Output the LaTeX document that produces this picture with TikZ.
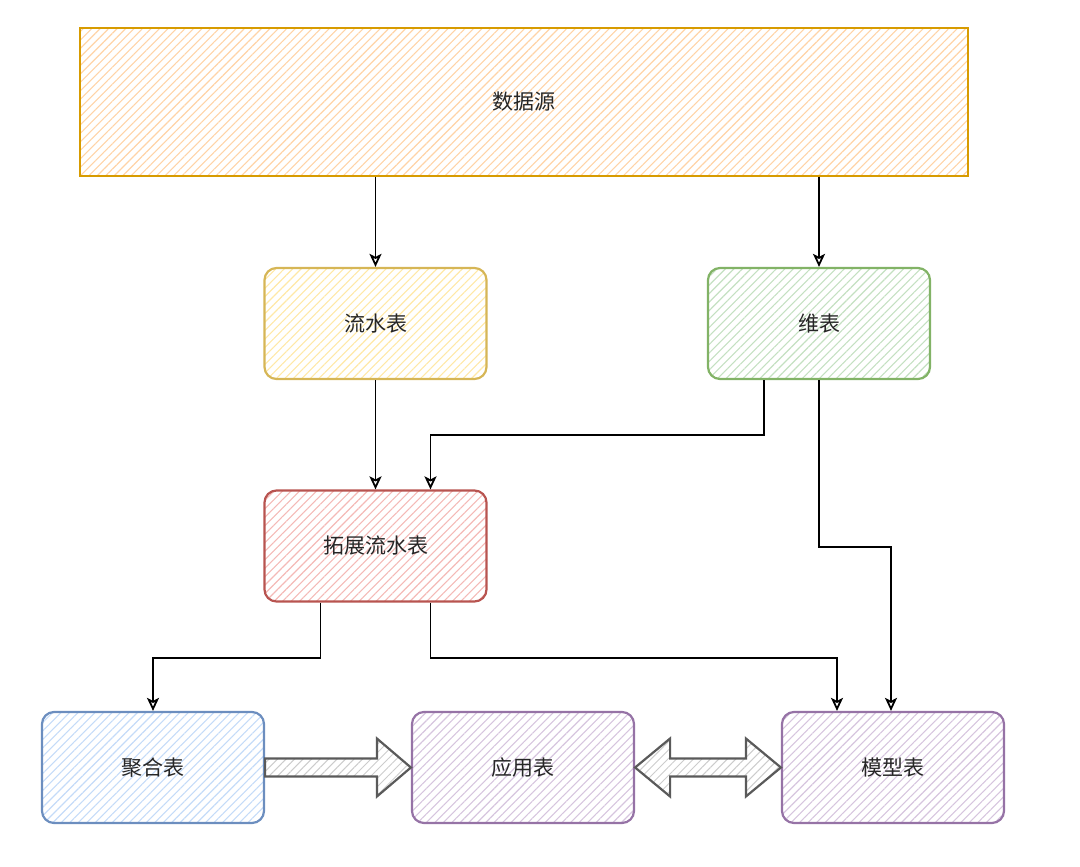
\documentclass[tikz,border=0pt]{standalone}
\usepackage{fontspec}
\setmainfont{Noto Sans CJK SC}
\usetikzlibrary{arrows.meta, patterns.meta, calc}

\definecolor{srcline}{HTML}{D79B00}
\definecolor{srcfill}{HTML}{FFD3A6}
\definecolor{yelline}{HTML}{D6B656}
\definecolor{yelfill}{HTML}{FFE8A6}
\definecolor{grnline}{HTML}{82B366}
\definecolor{grnfill}{HTML}{C4E0C1}
\definecolor{redline}{HTML}{B85450}
\definecolor{redfill}{HTML}{F4B9B6}
\definecolor{bluline}{HTML}{6C8EBF}
\definecolor{blufill}{HTML}{C4DBF8}
\definecolor{purline}{HTML}{9673A6}
\definecolor{purfill}{HTML}{D6C5DE}
\definecolor{fatline}{HTML}{5A5A5A}
\definecolor{fatfill}{HTML}{CCCCCC}

\begin{document}
\begin{tikzpicture}[
  x=1pt, y=-1pt,
  font=\fontsize{21pt}{25pt}\selectfont,
  line width=1pt,
  table/.style={draw=#1line, line width=2.2pt, rounded corners=12pt,
    pattern={Lines[angle=45, distance=6pt, line width=1.1pt]}, pattern color=#1fill,
    minimum width=222pt, minimum height=111pt, text=black!85, inner sep=0pt},
  link/.style={draw=black, line width=1.8pt,
    -{Stealth[open, length=13pt, width=12pt, inset=3pt]}},
  fatarrow/.style={draw=fatline, line width=2.2pt, line join=miter,
    pattern={Lines[angle=45, distance=6pt, line width=1pt]}, pattern color=fatfill}
]

\useasboundingbox (0,0) rectangle (1080,867);

% ------------------- Tables ------------------- %
\node[table=src, rounded corners=0pt, minimum width=888pt, minimum height=148pt]
  (src) at (524,102) {数据源};

\node[table=yel] (flow)  at (375.5,323.5) {流水表};
\node[table=grn] (dim)   at (819,323.5)   {维表};
\node[table=red] (ext)   at (375.5,546)   {拓展流水表};
\node[table=blu] (agg)   at (153,767.5)   {聚合表};
\node[table=pur] (app)   at (523,767.5)   {应用表};
\node[table=pur] (model) at (893,767.5)   {模型表};

% ------------------- Links ------------------- %
\draw[link] (flow|-src.south) -- (flow.north);
\draw[link] (dim|-src.south) -- (dim.north);
\draw[link] (flow.south) -- (ext.north);
\draw[link] ([xshift=-55pt]dim.south) -- ++(0,55) -| ([xshift=55pt]ext.north);
\draw[link] (dim.south) -- ++(0,167) -| ([xshift=-2pt]model.north);
\draw[link] ([xshift=-55pt]ext.south) -- ++(0,55) -| (agg.north);
\draw[link] ([xshift=55pt]ext.south) -- ++(0,55) -| ([xshift=-56pt]model.north);

% Block arrow: aggregate -> application
\draw[fatarrow] ($(agg.east)+(0,-9)$) -- ($(app.west)+(-34,-9)$) -- ++(0,-20)
  -- (app.west) -- ($(app.west)+(-34,29)$) -- ++(0,-20)
  -- ($(agg.east)+(0,9)$) -- cycle;

% Double block arrow: application <-> model
\draw[fatarrow] (app.east) -- ($(app.east)+(35,-29)$) -- ++(0,20)
  -- ($(model.west)+(-35,-9)$) -- ++(0,-20) -- (model.west)
  -- ($(model.west)+(-35,29)$) -- ++(0,-20)
  -- ($(app.east)+(35,9)$) -- ++(0,20) -- cycle;

\end{tikzpicture}
\end{document}
